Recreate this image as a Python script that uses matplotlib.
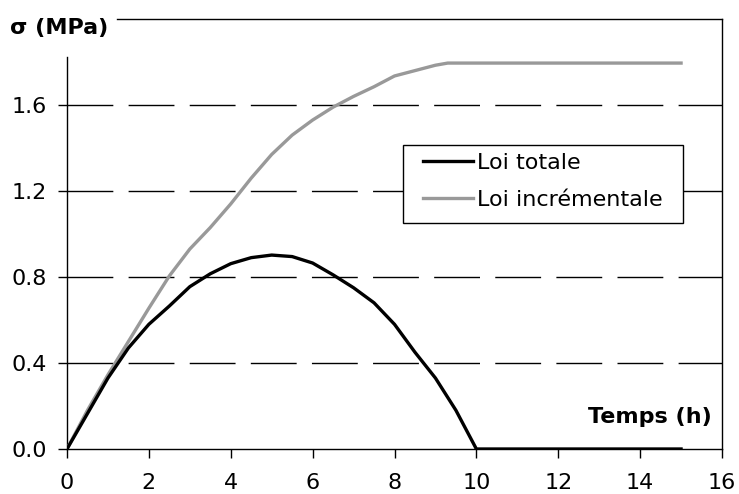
import matplotlib
matplotlib.use("Agg")
import matplotlib.pyplot as plt
from matplotlib.patches import Rectangle

plt.rcParams['font.family'] = ['DejaVu Sans']

# Data
t_totale = [0, 0.5, 1.0, 1.5, 2.0, 2.5, 3.0, 3.5, 4.0, 4.5, 5.0, 5.5, 6.0, 6.5,
            7.0, 7.5, 8.0, 8.5, 9.0, 9.5, 10.0, 15.0]
s_totale = [0, 0.165, 0.33, 0.47, 0.58, 0.665, 0.755, 0.815, 0.862, 0.89, 0.902,
            0.895, 0.865, 0.81, 0.75, 0.68, 0.58, 0.45, 0.33, 0.18, 0.0, 0.0]

t_incr = [0, 0.5, 1.0, 1.5, 2.0, 2.5, 3.0, 3.5, 4.0, 4.5, 5.0, 5.5, 6.0, 6.5,
          7.0, 7.5, 8.0, 8.5, 9.0, 9.3, 15.0]
s_incr = [0, 0.18, 0.345, 0.50, 0.655, 0.805, 0.93, 1.03, 1.14, 1.26, 1.37,
          1.46, 1.53, 1.59, 1.64, 1.685, 1.735, 1.76, 1.785, 1.795, 1.795]

xticks = [0, 2, 4, 6, 8, 10, 12, 14, 16]
yticks = [0.0, 0.4, 0.8, 1.2, 1.6]
ytick_labels = ["0.0", "0.4", "0.8", "1.2", "1.6"]

W, H = 739, 494
fig = plt.figure(figsize=(W / 100, H / 100), dpi=100)
ax = fig.add_axes([67 / W, 1 - 449 / H, (722 - 67) / W, (449 - 19) / H])

ax.set_xlim(0, 16)
ax.set_ylim(0, 2.0)

for y in yticks[1:]:
    ax.axhline(y, color='black', lw=1.0, dashes=(33, 11), zorder=1)

ax.plot(t_incr, s_incr, color='#999999', lw=2.4, label='Loi incrémentale', zorder=3)
ax.plot(t_totale, s_totale, color='black', lw=2.4, label='Loi totale', zorder=4)

ax.set_xticks(xticks)
ax.set_xticklabels([str(v) for v in xticks])
ax.set_yticks(yticks)
ax.set_yticklabels(ytick_labels)
ax.tick_params(axis='both', direction='out', length=6.5, width=1, labelsize=16,
               color='black', labelcolor='black')
ax.tick_params(axis='y', pad=8)
ax.tick_params(axis='x', pad=11)

for s in ax.spines.values():
    s.set_color('black')
    s.set_linewidth(1.0)
ax.spines['top'].set_bounds(1.22, 16)
ax.spines['left'].set_bounds(0, 1.823)

fig.text(10 / W, 1 - 28 / H, "σ (MPa)", fontsize=16, fontweight='bold',
         ha='left', va='center')
fig.text(712 / W, 1 - 417 / H, "Temps (h)", fontsize=16, fontweight='bold',
         ha='right', va='center')

# legend frame
frame = Rectangle((403 / W, 1 - 223 / H), 280 / W, 78 / H,
                  transform=fig.transFigure, facecolor='white',
                  edgecolor='black', lw=1.0, zorder=5, clip_on=False)
ax.add_patch(frame)

handles, labels = ax.get_legend_handles_labels()
order = [1, 0]
leg = ax.legend([handles[i] for i in order], [labels[i] for i in order],
                loc='upper left', bbox_to_anchor=(423 / W, 1 - 153 / H),
                bbox_transform=fig.transFigure, fontsize=16, frameon=False,
                handlelength=2.25, handletextpad=0.2, borderpad=0.0,
                labelspacing=0.77, borderaxespad=0)
leg.set_zorder(10)

fig.savefig("out.png", dpi=100, facecolor='white')
